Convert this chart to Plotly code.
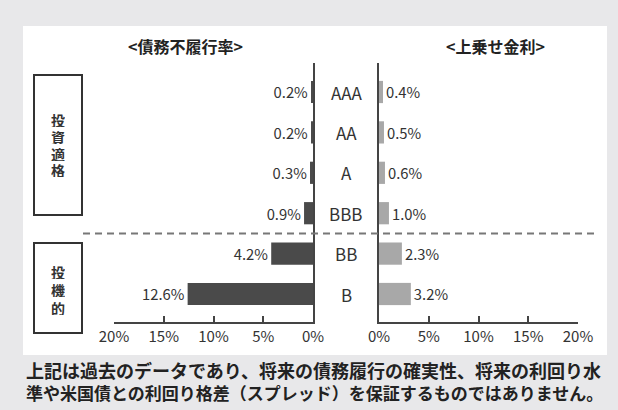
import plotly.graph_objects as go

W, H = 618, 410
ratings = ["AAA", "AA", "A", "BBB", "BB", "B"]
default_rate = [0.2, 0.2, 0.3, 0.9, 4.2, 12.6]
spread = [0.4, 0.5, 0.6, 1.0, 2.3, 3.2]
tick_vals = [0, 5, 10, 15, 20]
tick_text = ["0%", "5%", "10%", "15%", "20%"]
title_left = "<債務不履行率>"
title_right = "<上乗せ金利>"
group_labels = ["投資適格", "投機的"]
footer_lines = ["上記は過去のデータであり、将来の債務履行の確実性、将来の利回り水",
                "準や米国債との利回り格差（スプレッド）を保証するものではありません。"]

FONT = "Noto Sans CJK JP"
TXT = "#333333"

def px(x):
    return x / W

def py(y):
    return 1 - y / H

fig = go.Figure()
fig.add_trace(go.Bar(
    y=ratings, x=default_rate, orientation="h", xaxis="x", yaxis="y",
    marker=dict(color="#4a4a4a", line=dict(width=0)), width=0.55,
    text=[f"{v:.1f}%" for v in default_rate], textposition="outside",
    textfont=dict(family=FONT, size=16, color=TXT), cliponaxis=False,
    showlegend=False, hoverinfo="skip"))
fig.add_trace(go.Bar(
    y=ratings, x=spread, orientation="h", xaxis="x2", yaxis="y2",
    marker=dict(color="#a8a8a8", line=dict(width=0)), width=0.55,
    text=[f"{v:.1f}%" for v in spread], textposition="outside",
    textfont=dict(family=FONT, size=16, color=TXT), cliponaxis=False,
    showlegend=False, hoverinfo="skip"))

y_top, y_bot = 63, 322
c0, step = 92, 40.4
yr = [(y_bot - c0) / step, (y_top - c0) / step]
ydom = [py(y_bot), py(y_top)]

xaxis_common = dict(tickvals=tick_vals, ticktext=tick_text, automargin=False,
                    showline=True, linecolor="#444444", linewidth=1.5,
                    ticks="inside", ticklen=6, tickcolor="#444444", tickwidth=1.5,
                    showgrid=False, zeroline=False, fixedrange=True,
                    tickfont=dict(family=FONT, size=15, color=TXT))
xa1 = dict(xaxis_common); xa1.update(domain=[px(114), px(313)], range=[20, 0], anchor="y")
xa2 = dict(xaxis_common); xa2.update(domain=[px(379), px(578)], range=[0, 20], anchor="y2")
ya_common = dict(range=yr, domain=ydom, showticklabels=False, showgrid=False,
                 zeroline=False, showline=True, linecolor="#444444", linewidth=2,
                 ticks="", fixedrange=True, automargin=False)
ya1 = dict(ya_common); ya1.update(anchor="x", side="right")
ya2 = dict(ya_common); ya2.update(anchor="x2", side="left")

fig.update_layout(
    template="none",
    width=W, height=H, autosize=False, margin=dict(l=0, r=0, t=0, b=0, pad=0),
    paper_bgcolor="#e8e8ea", plot_bgcolor="rgba(0,0,0,0)",
    xaxis=xa1, xaxis2=xa2, yaxis=ya1, yaxis2=ya2, showlegend=False,
    font=dict(family=FONT, color=TXT),
)

shapes = [
    dict(type="rect", xref="paper", yref="paper", x0=px(23), x1=px(607),
         y0=py(355), y1=py(26), fillcolor="white", line=dict(width=0), layer="below"),
    dict(type="rect", xref="paper", yref="paper", x0=px(34), x1=px(82),
         y0=py(215), y1=py(75), line=dict(color="#333333", width=2)),
    dict(type="rect", xref="paper", yref="paper", x0=px(34), x1=px(82),
         y0=py(333), y1=py(243), line=dict(color="#333333", width=2)),
    dict(type="line", xref="paper", yref="y", x0=px(83), x1=px(596), y0=3.5, y1=3.5,
         line=dict(color="#777777", width=2, dash="7px,5px")),
]
fig.update_layout(shapes=shapes)

def note(x, y, text, size, color=TXT, xanchor="center", yref="paper", **kw):
    d = dict(x=x, y=y, xref="paper", yref=yref, text=text, showarrow=False,
             xanchor=xanchor, yanchor="middle",
             font=dict(family=FONT, size=size, color=color))
    d.update(kw)
    return d

ann = []
for r in ratings:
    ann.append(note(px(346), r, r, 17, yref="y"))
ann.append(note(px(185), py(46), "<b>" + title_left + "</b>", 16, "#222222"))
ann.append(note(px(495), py(46), "<b>" + title_right + "</b>", 16, "#222222"))
for i, ch in enumerate(group_labels[0]):
    ann.append(note(px(58), py(119 + 17 * i), "<b>" + ch + "</b>", 14,
                    height=15, valign="middle", borderpad=0))
for i, ch in enumerate(group_labels[1]):
    ann.append(note(px(58), py(271 + 18 * i), "<b>" + ch + "</b>", 14,
                    height=15, valign="middle", borderpad=0))
ann.append(note(px(24), py(370), "<b>" + footer_lines[0] + "</b>", 18, "#222222", xanchor="left"))
ann.append(note(px(24), py(392), "<b>" + footer_lines[1] + "</b>", 17, "#222222", xanchor="left"))
fig.update_layout(annotations=ann)

fig.write_html("out.html", config={"displayModeBar": False},
               post_script="document.body.style.margin='0';document.body.style.overflow='hidden';")
